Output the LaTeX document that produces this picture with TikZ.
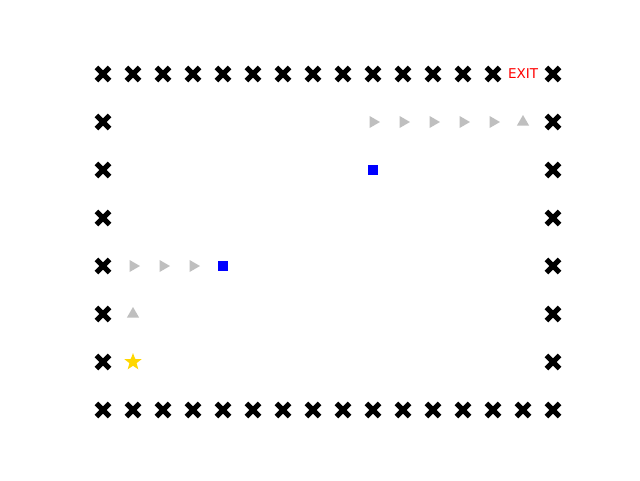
\documentclass[tikz,border=0pt]{standalone}
\usepackage{fontspec}
\setmainfont{DejaVu Sans}
\usetikzlibrary{shapes.geometric, shapes.misc}
\definecolor{wallBlack}{HTML}{000000}
\definecolor{pathGray}{HTML}{BFBFBF}
\definecolor{boxBlue}{HTML}{0000FF}
\definecolor{startGold}{HTML}{FFD700}
\definecolor{exitRed}{HTML}{FF0000}

\begin{document}
\begin{tikzpicture}[
    x=1pt, y=-1pt,
    wall/.style={cross out, draw=wallBlack, line width=5.2pt, minimum size=8pt, inner sep=0pt},
    stepright/.style={regular polygon, regular polygon sides=3, shape border rotate=-90, fill=pathGray, minimum size=14pt, inner sep=0pt},
    stepup/.style={regular polygon, regular polygon sides=3, fill=pathGray, minimum size=14pt, inner sep=0pt},
    box/.style={rectangle, fill=boxBlue, minimum size=10pt, inner sep=0pt},
    start/.style={star, star points=5, star point ratio=2.4, fill=startGold, minimum size=18pt, inner sep=0pt},
    exitlabel/.style={text=exitRed, font=\fontsize{13.5}{16}\selectfont, inner sep=0pt}
]
    \useasboundingbox (0,0) rectangle (640,480);

    % walls
    \foreach \c in {0,...,13}
        \node[wall] (wt\c) at (103+30*\c, 74) {};
    \node[wall] (wt15) at (553, 74) {};
    \foreach \c in {0,...,15}
        \node[wall] (wb\c) at (103+30*\c, 410) {};
    \foreach \r in {1,...,6} {
        \node[wall] (wl\r) at (103, 74+48*\r) {};
        \node[wall] (wr\r) at (553, 74+48*\r) {};
    }
    \node[exitlabel] (exit) at (523, 74) {EXIT};

    % path
    \foreach \c in {9,...,13}
        \node[stepright] (pa\c) at (103+30*\c, 122) {};
    \node[stepup] (pa14) at (523, 122) {};
    \foreach \c in {1,2,3}
        \node[stepright] (pb\c) at (103+30*\c, 266) {};
    \node[stepup] (pc1) at (133, 314) {};

    % boxes and start
    \node[box] (box1) at (373, 170) {};
    \node[box] (box2) at (223, 266) {};
    \node[start] (begin) at (133, 362) {};
\end{tikzpicture}
\end{document}
